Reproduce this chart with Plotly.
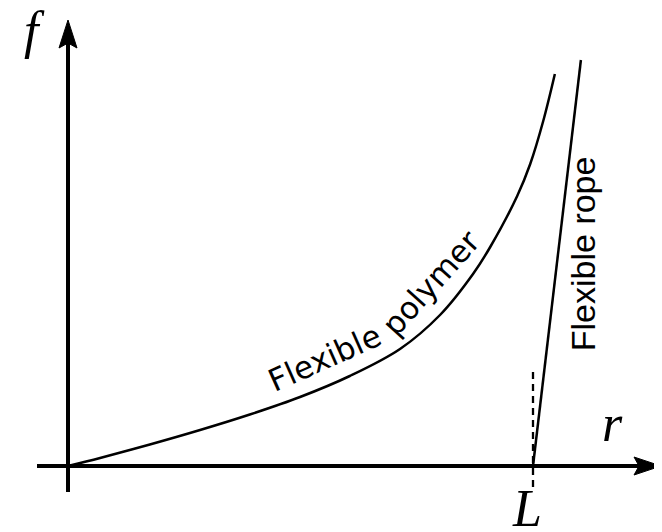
import plotly.graph_objects as go

# ---- data (r in units of L, f in arbitrary units) ----
r_polymer = [0.0, 0.069, 0.176, 0.284, 0.391, 0.499, 0.606, 0.714, 0.800, 0.871,
             0.908, 0.966, 0.994, 1.022, 1.047]
f_polymer = [0.0, 0.08, 0.215, 0.36, 0.515, 0.69, 0.90, 1.17, 1.51, 1.92,
             2.19, 2.70, 3.02, 3.45, 3.92]

r_rope = [1.0, 1.103]
f_rope = [0.0, 4.06]

r_L_marker = [1.0, 1.0]
f_L_marker = [0.94, -0.24]

# axis extents (page body has an 8px margin)
x_range = [-0.12903, 1.29462]
y_range = [-0.74, 4.58]

fig = go.Figure()

fig.add_trace(go.Scatter(x=r_polymer, y=f_polymer, mode="lines",
                         line=dict(color="black", width=2.5, shape="spline", smoothing=1.0),
                         hoverinfo="skip", showlegend=False))
fig.add_trace(go.Scatter(x=r_rope, y=f_rope, mode="lines",
                         line=dict(color="black", width=2.5),
                         hoverinfo="skip", showlegend=False))
fig.add_trace(go.Scatter(x=r_L_marker, y=f_L_marker, mode="lines",
                         line=dict(color="black", width=2.3, dash="7px,5px"),
                         hoverinfo="skip", showlegend=False))

px_x = (x_range[1] - x_range[0]) / 662.0
px_y = (y_range[1] - y_range[0]) / 532.0

shapes = []
# horizontal axis with arrow
h_tip = 593 * px_x
h_base = h_tip - 27 * px_x
h_notch = h_tip - 22 * px_x
shapes.append(dict(type="line", x0=-31 * px_x, x1=h_notch, y0=0, y1=0,
                   line=dict(color="black", width=4)))
shapes.append(dict(type="path",
                   path=f"M{h_tip},0 L{h_base},{9*px_y} L{h_notch},0 L{h_base},{-9*px_y} Z",
                   fillcolor="black", line=dict(color="black", width=1)))
# vertical axis with arrow
v_tip = 446 * px_y
v_base = v_tip - 28 * px_y
v_notch = v_tip - 23 * px_y
shapes.append(dict(type="line", x0=0, x1=0, y0=-26 * px_y, y1=v_notch,
                   line=dict(color="black", width=4)))
shapes.append(dict(type="path",
                   path=f"M0,{v_tip} L{9*px_x},{v_base} L0,{v_notch} L{-9*px_x},{v_base} Z",
                   fillcolor="black", line=dict(color="black", width=1)))

math_font = dict(family="Liberation Serif", size=52, color="black")
annotations = [
    dict(x=-0.072, y=4.36, text="<i>f</i>", showarrow=False, font=math_font),
    dict(x=1.172, y=0.43, text="<i>r</i>", showarrow=False, font=math_font),
    dict(x=0.987, y=-0.42, text="<i>L</i>", showarrow=False, font=math_font),
    dict(x=0.551, y=1.08, text="Flexible", textangle=-24, showarrow=False,
         font=dict(family="DejaVu Sans", size=31, color="black")),
    dict(x=0.780, y=1.83, text="polymer", textangle=-48, showarrow=False,
         font=dict(family="DejaVu Sans", size=31, color="black")),
    dict(x=1.108, y=2.12, text="Flexible rope", textangle=-90, showarrow=False,
         font=dict(family="Liberation Sans", size=34, color="black")),
]

fig.update_layout(
    width=662, height=532,
    margin=dict(l=0, r=0, t=0, b=0),
    paper_bgcolor="white", plot_bgcolor="white",
    xaxis=dict(range=x_range, visible=False, fixedrange=True),
    yaxis=dict(range=y_range, visible=False, fixedrange=True),
    shapes=shapes,
    annotations=annotations,
    showlegend=False,
)

fig.write_html("out.html")
